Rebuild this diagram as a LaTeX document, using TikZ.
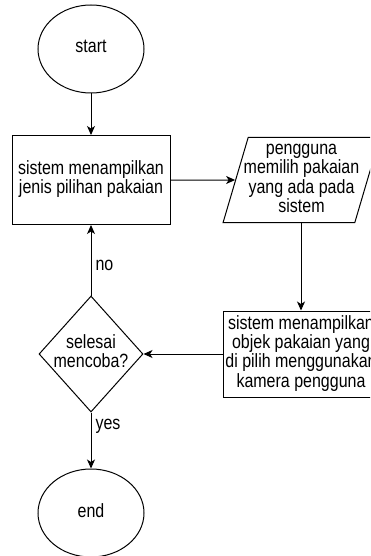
\documentclass[tikz,border=0pt]{standalone}
\usepackage{fontspec}
\setmainfont{Liberation Sans}
\usetikzlibrary{shapes.geometric,arrows.meta}
\newcommand{\tx}[1]{\scalebox{1}[1.2]{\begin{tabular}{@{}c@{}}#1\end{tabular}}}
\begin{document}
\begin{tikzpicture}[x=1pt,y=-1pt,
  every node/.style={font=\fontsize{16}{15.4}\selectfont, align=center},
  line/.style={draw=black, line width=1pt},
  arr/.style={line, -{Stealth[length=9pt,width=8pt,inset=2.5pt]}},
  term/.style={line, ellipse, minimum width=106pt, minimum height=88pt, inner sep=0pt},
  proc/.style={line, rectangle, inner sep=0pt},
  io/.style={line, trapezium, trapezium left angle=70.5, trapezium right angle=109.5,
    trapezium stretches=true, minimum width=157pt, minimum height=85pt,
    inner xsep=-15pt, inner ysep=-10pt},
  dec/.style={line, diamond, aspect=0.9, inner sep=-4pt, minimum width=104pt, minimum height=116pt},
  lbl/.style={inner sep=4pt}
]
\useasboundingbox (0,0) rectangle (370,556);
\fill[white] (0,0) rectangle (370,556);
\clip (0,0) rectangle (370,556);

\node[term] (start) at (91,49) {\tx{start}};
\node[proc, minimum width=158pt, minimum height=89pt] (show1) at (91,180) {\tx{sistem menampilkan\\jenis pilihan pakaian}};
\node[io] (choose) at (301.5,180) {\tx{pengguna\\memilih pakaian\\yang ada pada\\sistem}};
\node[proc, minimum width=156pt, minimum height=86pt] (show2) at (301,354) {\tx{sistem menampilkan\\objek pakaian yang\\di pilih menggunakan\\kamera pengguna}};
\node[dec] (done) at (91,354) {\tx{selesai\\mencoba?}};
\node[term] (end) at (91,513) {\tx{end}};

\draw[arr] (start) -- (show1);
\draw[arr] (show1) -- (choose);
\draw[arr] (choose.south -| show2.north) -- (show2.north);
\draw[arr] (show2) -- (done);
\draw[arr] (done) -- node[lbl, pos=0.4, right] {\tx{no}} (show1);
\draw[arr] (done) -- node[lbl, pos=0.24, right] {\tx{yes}} (end);
\end{tikzpicture}
\end{document}
